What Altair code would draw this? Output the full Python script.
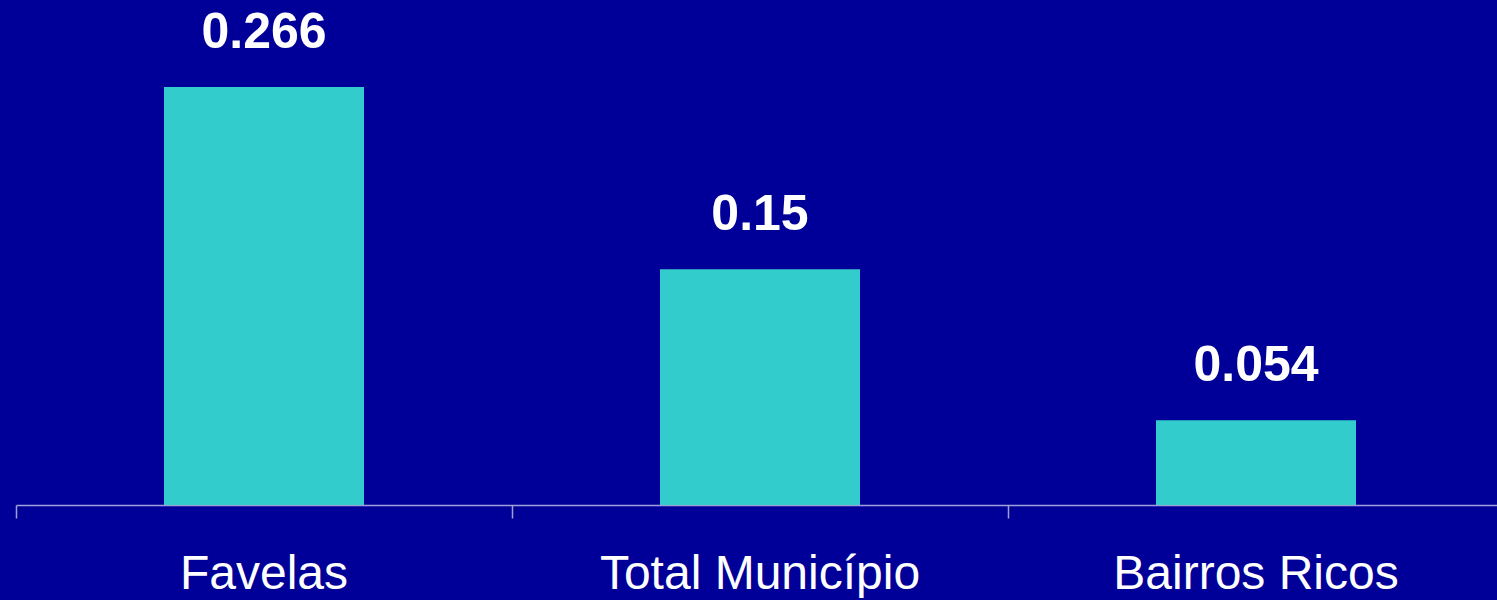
import altair as alt
import pandas as pd
import jinja2

categories = ["Favelas", "Total Município", "Bairros Ricos"]
values = [0.266, 0.15, 0.054]

df = pd.DataFrame({"category": categories, "value": values})

FONT = "Liberation Sans"
BG = "#000099"
BAR = "#33CCCC"
AXIS = "#A0A0D8"

PAGE = jinja2.Template(
    """<!DOCTYPE html>
<html>
<head>
<meta charset="utf-8">
<style>html, body { margin: 0; padding: 0; background: #000099; overflow: hidden; }</style>
<script type="text/javascript" src="{{ base_url }}/vega@{{ vega_version }}"></script>
<script type="text/javascript" src="{{ base_url }}/vega-lite@{{ vegalite_version }}"></script>
<script type="text/javascript" src="{{ base_url }}/vega-embed@{{ vegaembed_version }}"></script>
</head>
<body>
<div id="{{ output_div }}"></div>
<script type="text/javascript">
  vegaEmbed("#{{ output_div }}", {{ spec }}, {{ embed_options }}).catch(console.error);
</script>
</body>
</html>
"""
)

x_enc = alt.X(
    "category:N",
    sort=categories,
    title=None,
    scale=alt.Scale(paddingInner=0, paddingOuter=0),
    axis=alt.Axis(
        labelAngle=0,
        labelFont=FONT,
        labelFontSize=48,
        labelColor="white",
        labelBaseline="alphabetic",
        labelPadding=70,
        labelLimit=0,
        domainColor=AXIS,
        domainWidth=1.5,
        tickColor=AXIS,
        tickWidth=1.5,
        tickSize=13,
        bandPosition=0,
        grid=False,
    ),
)
y_enc = alt.Y(
    "value:Q",
    scale=alt.Scale(domain=[0, 0.3214], nice=False),
    axis=None,
)

bars = alt.Chart(df).mark_bar(color=BAR, size=200).encode(x=x_enc, y=y_enc)
labels = alt.Chart(df).mark_text(
    dy=-39,
    baseline="alphabetic",
    align="center",
    font=FONT,
    fontSize=50,
    fontWeight="bold",
    color="white",
).encode(x=x_enc, y=y_enc, text=alt.Text("value:Q"))

chart = (
    alt.layer(bars, labels)
    .properties(
        width=1488,
        height=505,
        background=BG,
        padding={"left": 15, "top": 0, "right": 0, "bottom": 0},
    )
    .configure_view(stroke=None)
)

chart.save(
    "out.html",
    embed_options={"renderer": "svg", "actions": False},
    template=PAGE,
)
